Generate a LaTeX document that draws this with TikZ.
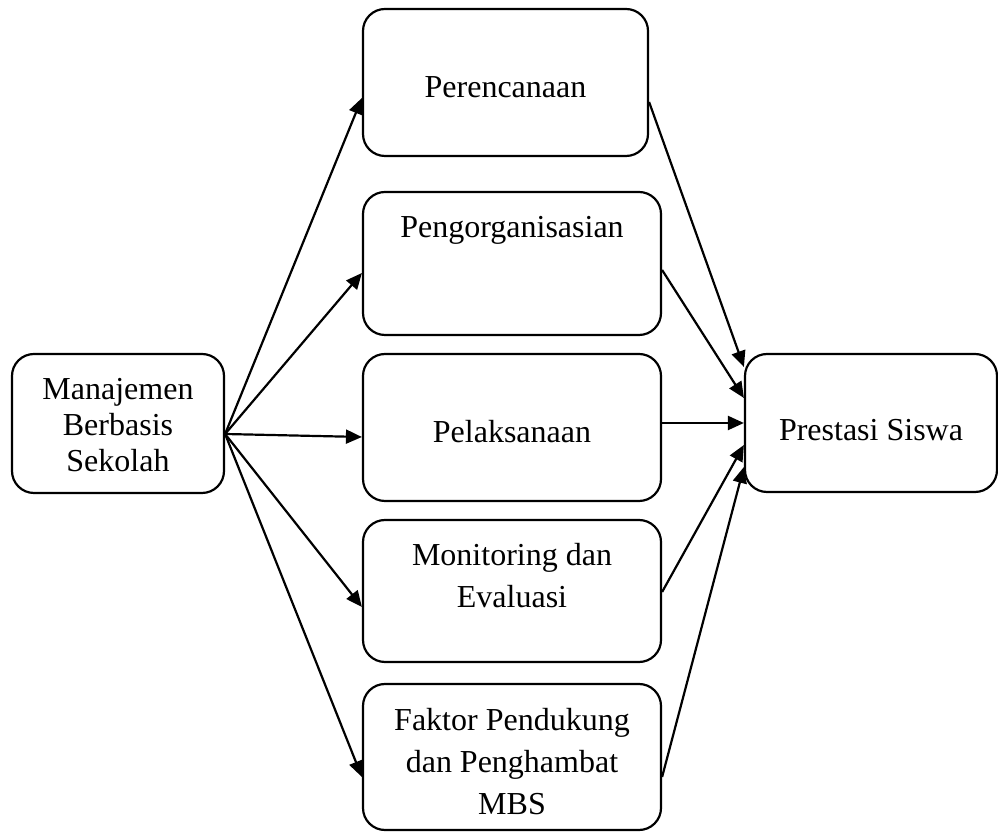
\documentclass[tikz,border=0pt]{standalone}
\usepackage{fontspec}
\setmainfont{Liberation Serif}
\usetikzlibrary{arrows.meta}
\begin{document}
\begin{tikzpicture}[x=1pt,y=1pt,
  box/.style={draw=black, line width=2.2pt, rounded corners=22pt, inner sep=0pt},
  lbl/.style={font=\fontsize{32}{42}\selectfont, align=center, inner sep=0pt, anchor=base},
  conn/.style={line width=2.2pt, -{Triangle[length=16pt,width=14pt]}}
]
\useasboundingbox (0,0) rectangle (998,832);
% boxes
\node[box, minimum width=212pt, minimum height=139pt] (mbs) at (118,408.5) {};
\node[box, minimum width=285pt, minimum height=147pt] (b1) at (505.5,749.5) {};
\node[box, minimum width=298pt, minimum height=143pt] (b2) at (512,568.5) {};
\node[box, minimum width=298pt, minimum height=147pt] (b3) at (512,404.5) {};
\node[box, minimum width=298pt, minimum height=142pt] (b4) at (512,241) {};
\node[box, minimum width=298pt, minimum height=146pt] (b5) at (512,75) {};
\node[box, minimum width=252pt, minimum height=138pt] (ps) at (871,409) {};
% texts (base anchor = baseline of last line)
\node[lbl, font=\fontsize{32}{36}\selectfont] (t0) at (118,360) {Manajemen\\Berbasis\\Sekolah};
\node[lbl] (t1) at (505.5,734) {Perencanaan};
\node[lbl] (t2) at (512,594) {Pengorganisasian};
\node[lbl] (t3) at (512,389) {Pelaksanaan};
\node[lbl] (t4) at (512,224) {Monitoring dan\\Evaluasi};
\node[lbl] (t5) at (512,17) {Faktor Pendukung\\dan Penghambat\\MBS};
\node[lbl] (t6) at (871,391) {Prestasi Siswa};
% connectors from MBS
\coordinate (s) at ([yshift=-10.5pt]mbs.east);
\draw[conn] (s) -- ([yshift=-15.5pt]b1.west);
\draw[conn] (s) -- ([yshift=-9.5pt]b2.west);
\draw[conn] (s) -- ([yshift=-9.5pt]b3.west);
\draw[conn] (s) -- ([yshift=-16pt]b4.west);
\draw[conn] (s) -- ([yshift=-20pt]b5.west);
% connectors to Prestasi Siswa
\draw[conn] ([yshift=-19.5pt]b1.east) -- ([yshift=56pt]ps.west);
\draw[conn] ([yshift=-6.5pt]b2.east) -- ([yshift=25pt]ps.west);
\draw[conn] ([yshift=4.5pt]b3.east) -- ([yshift=0pt]ps.west);
\draw[conn] ([yshift=-1pt]b4.east) -- ([yshift=-22pt]ps.west);
\draw[conn] ([yshift=-20pt]b5.east) -- ([yshift=-44pt]ps.west);
\end{tikzpicture}
\end{document}
